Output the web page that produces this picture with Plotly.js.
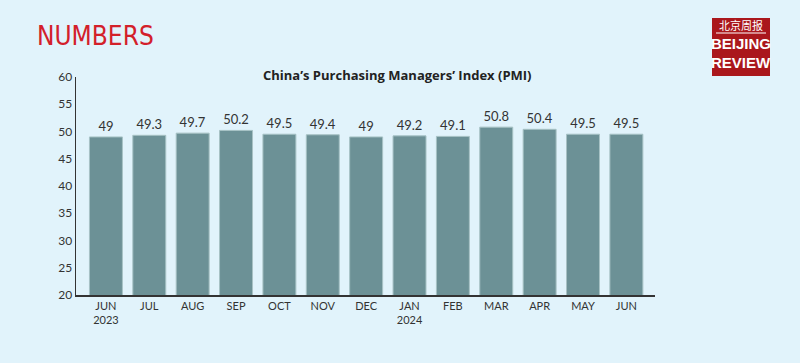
<!DOCTYPE html>
<html>
<head>
<meta charset="utf-8">
<script src="https://cdn.plot.ly/plotly-3.0.1.min.js"></script>
<style>
html,body{margin:0;padding:0;background:#e1f3fb;}
#chart{width:800px;height:363px;}
</style>
</head>
<body>
<div id="chart"></div>
<script>
const months = ["JUN<br>2023","JUL","AUG","SEP","OCT","NOV","DEC","JAN<br>2024","FEB","MAR","APR","MAY","JUN"];
const pmi = [49, 49.3, 49.7, 50.2, 49.5, 49.4, 49, 49.2, 49.1, 50.8, 50.4, 49.5, 49.5];
const yTicks = [20,25,30,35,40,45,50,55,60];
const idx = months.map((m,i)=>i);

const trace = {
  type: 'bar',
  x: idx,
  y: pmi,
  text: pmi.map(String),
  textposition: 'outside',
  cliponaxis: false,
  textfont: {family: 'Lato, sans-serif', size: 13, color: '#333'},
  marker: {color: '#6c9196', line: {color: '#a7c2c5', width: 1}},
  hoverinfo: 'none'
};

const L = 76, W = 579, T = 77, H = 218;
const px = x => (x - L) / W;
const py = y => 1 + (T - y) / H;

const layout = {
  width: 800, height: 363,
  paper_bgcolor: '#e1f3fb',
  plot_bgcolor: '#e1f3fb',
  margin: {l: 76, r: 145, t: 77, b: 68},
  bargap: 0.24,
  showlegend: false,
  xaxis: {
    range: [-0.69, 12.66],
    tickmode: 'array',
    tickvals: idx,
    ticktext: months,
    showgrid: false, zeroline: false,
    showline: true, linecolor: '#333', linewidth: 1.5,
    ticks: '', ticklen: 0,
    tickfont: {family: 'Lato, sans-serif', size: 11, color: '#333'},
    fixedrange: true
  },
  yaxis: {
    range: [20, 60],
    tickmode: 'array',
    tickvals: yTicks,
    showgrid: false, zeroline: false,
    showline: true, linecolor: '#333', linewidth: 1.5,
    ticks: '', ticklen: 0,
    tickfont: {family: 'Lato, sans-serif', size: 12, color: '#333'},
    fixedrange: true
  },
  shapes: [
    {type: 'rect', xref: 'paper', yref: 'paper',
     x0: px(712), x1: px(770), y0: py(18), y1: py(76),
     fillcolor: '#aa171c', line: {width: 0}},
    {type: 'line', xref: 'paper', yref: 'paper',
     x0: px(716), x1: px(766), y0: py(33), y1: py(33),
     line: {color: '#ffffff', width: 1.2}}
  ],
  annotations: [
    {text: 'NUMBERS', xref: 'paper', yref: 'paper',
     x: px(35), y: py(36), xanchor: 'left', yanchor: 'middle',
     showarrow: false,
     font: {family: '"Liberation Sans Narrow", "DejaVu Sans Condensed", sans-serif', size: 26, color: '#d3202a'}},
    {text: '<b>China\u2019s Purchasing Managers\u2019 Index (PMI)</b>', xref: 'paper', yref: 'paper',
     x: px(397), y: py(75), xanchor: 'center', yanchor: 'middle',
     showarrow: false,
     font: {family: '"Open Sans", sans-serif', size: 13, color: '#222'}},
    {text: '北京周报', xref: 'paper', yref: 'paper',
     x: px(741), y: py(25), xanchor: 'center', yanchor: 'middle',
     showarrow: false,
     font: {family: '"Noto Sans CJK SC", sans-serif', size: 11, color: '#ffffff'}},
    {text: '<b>BEIJING</b>', xref: 'paper', yref: 'paper',
     x: px(741), y: py(44), xanchor: 'center', yanchor: 'middle',
     showarrow: false,
     font: {family: '"Liberation Sans Narrow", sans-serif', size: 15, color: '#ffffff'}},
    {text: '<b>REVIEW</b>', xref: 'paper', yref: 'paper',
     x: px(741), y: py(63), xanchor: 'center', yanchor: 'middle',
     showarrow: false,
     font: {family: '"Liberation Sans Narrow", sans-serif', size: 15, color: '#ffffff'}}
  ]
};

Plotly.newPlot('chart', [trace], layout, {displayModeBar: false, staticPlot: true});
</script>
</body>
</html>
